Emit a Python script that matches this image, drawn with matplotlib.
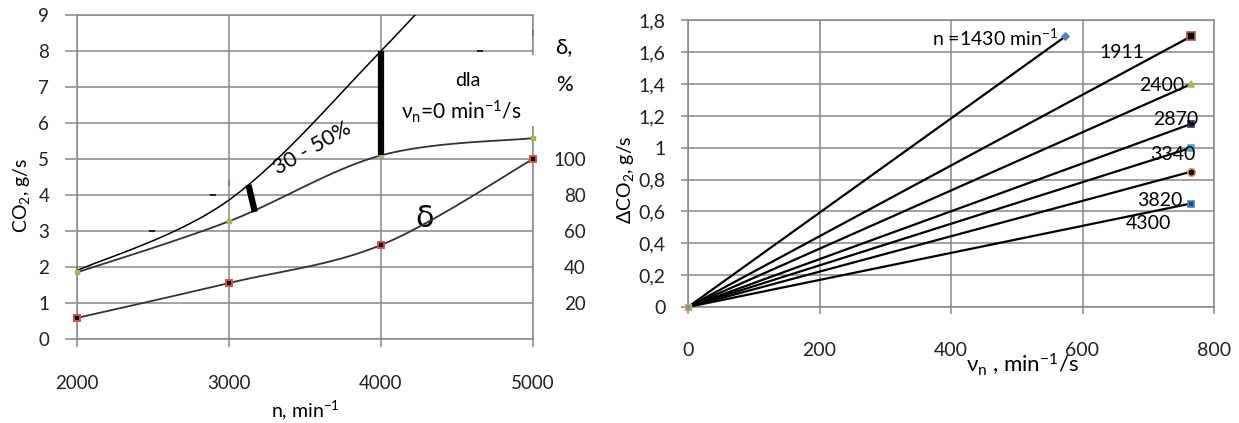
import numpy as np
import matplotlib
matplotlib.use("Agg")
import matplotlib.pyplot as plt
from matplotlib.patches import Rectangle

plt.rcParams['font.family'] = ['Lato', 'DejaVu Sans']
plt.rcParams['mathtext.fontset'] = 'custom'
plt.rcParams['mathtext.rm'] = 'Lato'
plt.rcParams['mathtext.it'] = 'Lato:italic'
plt.rcParams['mathtext.default'] = 'regular'

# ---------------- data: left chart ----------------
n_rpm = [2000, 3000, 4000, 5000]
co2_upper = [1.9, 3.86, 8.0, 12.6]          # upper curve (clipped at 9)
co2_vn0 = [1.85, 3.27, 5.1, 5.58]           # green series, vn = 0
delta_pct = [11.7, 31.1, 52.2, 100.0]       # delta, %
blue_n = [2000, 3000, 5000]
blue_v = [1.92, 4.33, 8.5]
dash_n = [2493, 2895, 4650]
dash_v = [3.0, 4.0, 8.0]
bar1_n = [4000, 4000]
bar1_v = [5.1, 8.0]
bar2_n = [3128, 3170]
bar2_v = [4.28, 3.53]
left_xticks = [2000, 3000, 4000, 5000]
left_yticks = list(range(0, 10))
delta_ticks = [20, 40, 60, 80, 100]

# ---------------- data: right chart ----------------
vn_end = [574, 765, 765, 765, 765, 765, 765]
dco2_end = [1.70, 1.70, 1.40, 1.15, 1.00, 0.85, 0.65]
n_labels = ['n =1430 min$^{-1}$', '1911', '2400', '2870', '3340', '3820', '4300']
label_x = [563, 660, 720, 742, 737, 718, 701]
label_y = [1.69, 1.60, 1.39, 1.18, 0.96, 0.67, 0.525]
marker_styles = [('D', '#4f81bd', '#4f81bd', 3.5),
                 ('s', 'black', '#c0504d', 6),
                 ('^', '#9bbb59', '#9bbb59', 5),
                 ('s', '#1f1a3a', '#403152', 5),
                 ('s', '#4bacc6', '#4bacc6', 5),
                 ('o', 'black', '#f79646', 5.5),
                 ('s', '#1f497d', '#4f81bd', 5)]
right_xticks = [0, 200, 400, 600, 800]
right_yticks = [0, 0.2, 0.4, 0.6, 0.8, 1.0, 1.2, 1.4, 1.6, 1.8]
right_yticklabels = ['0', '0,2', '0,4', '0,6', '0,8', '1', '1,2', '1,4', '1,6', '1,8']

GRID = '#888888'


def smooth(xs, ys, k=24):
    p = np.column_stack([xs, ys]).astype(float)
    out = [p[0]]
    m = len(p)
    for i in range(m - 1):
        p0 = p[i - 1] if i > 0 else p[i]
        p1, p2 = p[i], p[i + 1]
        p3 = p[i + 2] if i + 2 < m else p[i + 1]
        c1 = p1 + (p2 - p0) / 6.0
        c2 = p2 - (p3 - p1) / 6.0
        t = np.linspace(0, 1, k)[1:, None]
        seg = ((1 - t) ** 3) * p1 + 3 * ((1 - t) ** 2) * t * c1 + 3 * (1 - t) * t ** 2 * c2 + t ** 3 * p2
        out.extend(seg)
    out = np.array(out)
    return out[:, 0], out[:, 1]


fig = plt.figure(figsize=(12.39, 4.23), dpi=100)

# ================= LEFT CHART =================
W, H = 1239.0, 423.0
axL = fig.add_axes([77 / W, (H - 339) / H, 456 / W, 324 / H])
axL.set_xlim(2000, 5000)
axL.set_ylim(0, 9)
axL.set_xticks(left_xticks)
axL.set_yticks(left_yticks)
axL.grid(True, color=GRID, lw=1.1)
axL.set_axisbelow(True)
for s in axL.spines.values():
    s.set_color(GRID)
    s.set_linewidth(1.1)
axL.tick_params(axis='x', direction='out', length=6, width=1.1, color=GRID,
                pad=20, labelsize=13.5, labelcolor='#222222')
axL.tick_params(axis='y', direction='out', length=9, width=1.1, color=GRID,
                pad=11, labelsize=13.5, labelcolor='#222222')

# white box over gridlines
box = Rectangle((4012, 5.92), 1130, 1.97, facecolor='white', edgecolor='none',
                zorder=3, clip_on=False)
axL.add_patch(box)

ux, uy = smooth(n_rpm, co2_upper)
axL.plot(ux, uy, color='black', lw=1.1, zorder=5)
gx, gy = smooth(n_rpm, co2_vn0)
axL.plot(gx, gy, color='#333333', lw=1.3, zorder=5)
axL.plot(n_rpm, co2_vn0, ls='none', marker='s', ms=3.5, color='#9bbb59', zorder=6, clip_on=False)
axL.plot(blue_n, blue_v, ls='none', marker='|', ms=4, mew=1.2, color='#4f81bd', zorder=4, clip_on=False)
axL.plot(dash_n, dash_v, ls='none', marker='_', ms=4, mew=1.4, color='#222222', zorder=4)
axL.plot(bar1_n, bar1_v, color='black', lw=4.5, solid_capstyle='butt', zorder=6)
axL.plot(bar2_n, bar2_v, color='black', lw=4.5, solid_capstyle='butt', zorder=6)

axL.text(4572, 7.19, 'dla', ha='center', va='center', fontsize=14, zorder=7)
axL.text(4526, 6.31, 'ν$_n$=0 min$^{-1}$/s', ha='center', va='center', fontsize=15, zorder=7)
axL.text(3545, 5.3, '30 - 50%', ha='center', va='center', fontsize=15.5, rotation=30, zorder=7)
axL.text(5205, 8.1, 'δ,', ha='center', va='center', fontsize=16, clip_on=False)
axL.text(5205, 7.06, '%', ha='center', va='center', fontsize=15, clip_on=False)
axL.text(4290, 3.36, 'δ', ha='center', va='center', fontsize=22, family='DejaVu Sans',
         zorder=7)

fig.text(21 / W, (H - 195) / H, 'CO$_2$, g/s', rotation=90, ha='center', va='center', fontsize=14)
fig.text(305 / W, (H - 410) / H, 'n, min$^{-1}$', ha='center', va='center', fontsize=14)

axD = axL.twinx()
axD.set_ylim(0, 180)
axD.set_yticks(delta_ticks)
axD.tick_params(axis='y', length=0, pad=38, labelsize=13.5, labelcolor='#222222')
for lab in axD.get_yticklabels():
    lab.set_horizontalalignment('right')
for s in axD.spines.values():
    s.set_visible(False)
dx, dy = smooth(n_rpm, delta_pct)
axD.plot(dx, dy, color='#333333', lw=1.3, zorder=5)
axD.plot(n_rpm, delta_pct, ls='none', marker='s', ms=5, mfc='black', mec='#d0504d',
         mew=1.4, zorder=6, clip_on=False)

# ================= RIGHT CHART =================
axR = fig.add_axes([688 / W, (H - 307) / H, 526 / W, 286.5 / H])
axR.set_xlim(0, 800)
axR.set_ylim(0, 1.8)
axR.set_xticks(right_xticks)
axR.set_yticks(right_yticks)
axR.set_yticklabels(right_yticklabels)
axR.grid(True, color=GRID, lw=1.1)
axR.set_axisbelow(True)
for s in axR.spines.values():
    s.set_color(GRID)
    s.set_linewidth(1.1)
axR.tick_params(axis='x', direction='out', length=5, width=1.1, color=GRID,
                pad=20, labelsize=14, labelcolor='#222222')
axR.tick_params(axis='y', direction='out', length=5, width=1.1, color=GRID,
                pad=11, labelsize=14, labelcolor='#222222')

for xe, ye, (mk, fc, ec, ms) in zip(vn_end, dco2_end, marker_styles):
    axR.plot([0, xe], [0, ye], color='black', lw=1.6, zorder=4)
    axR.plot([xe], [ye], ls='none', marker=mk, ms=ms, mfc=fc, mec=ec, mew=1.2,
             zorder=5, clip_on=False)
axR.plot([0], [0], ls='none', marker='s', ms=5, mfc='#4bacc6', mec='#f79646', zorder=6, clip_on=False)

for lab, lx, ly in zip(n_labels, label_x, label_y):
    ha = 'right' if lab.startswith('n') else 'center'
    axR.text(lx, ly, lab, ha=ha, va='center', fontsize=14, zorder=7)

fig.text(625 / W, (H - 180) / H, 'ΔCO$_2$, g/s', rotation=90, ha='center', va='center', fontsize=14)
fig.text(1022 / W, (H - 365) / H, 'ν$_n$ , min$^{-1}$/s', ha='center', va='center', fontsize=16)

fig.savefig('out.png', dpi=100, facecolor='white')
